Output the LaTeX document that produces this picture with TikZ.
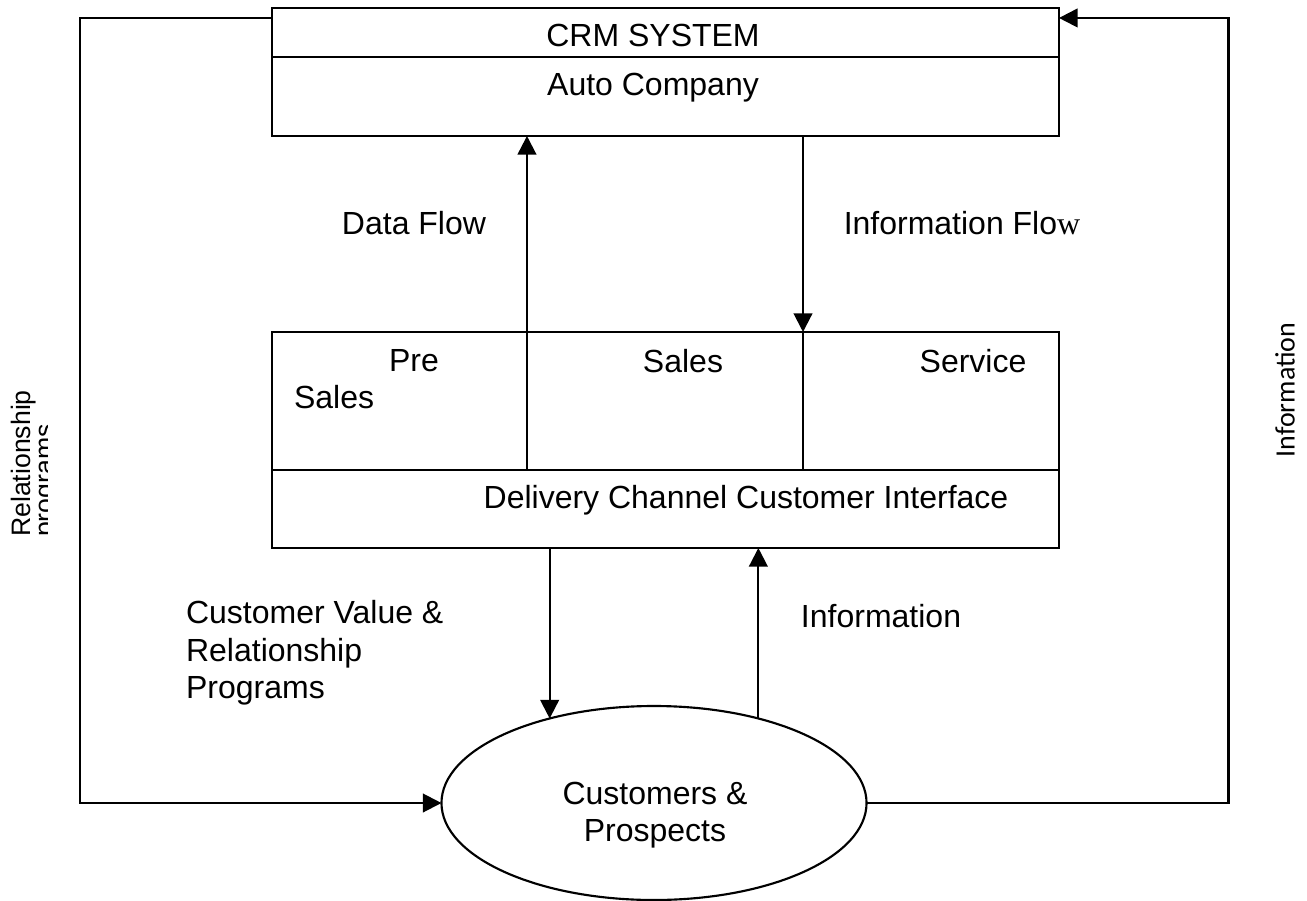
\documentclass[tikz,border=0pt]{standalone}
\usepackage{fontspec}
\setmainfont{Liberation Sans}
\newfontfamily\calfont{Carlito}
\newfontfamily\serfont{Liberation Serif}
\usetikzlibrary{arrows.meta,shapes.geometric}

\begin{document}
\begin{tikzpicture}[x=0.375pt,y=-0.375pt,
  every node/.style={font=\fontsize{12}{14}\selectfont},
  box/.style={draw,line width=1pt,inner sep=0pt,outer sep=0pt,minimum width=295.1pt},
  cell/.style={draw,line width=0.9pt,inner sep=0pt,outer sep=0pt,minimum height=51.75pt},
  lbl/.style={inner sep=0pt,align=left},
  >={Triangle[length=7pt,width=7pt]}, line width=0.8pt ]
  \useasboundingbox (0,0) rectangle (1307,901);

  \node[box,minimum height=18.4pt] (crm) at (665.5,32.5) {};
  \node[box,minimum height=29.6pt] (auto) at (665.5,96.5) {};
  \node[lbl] (crmtxt) at (653,35) {CRM SYSTEM};
  \node[lbl] (autotxt) at (653,88) {Auto Company};

  \node[cell,minimum width=95.6pt] (pre) at (399.5,401) {};
  \node[cell,minimum width=103.5pt] (sales) at (665,401) {};
  \node[cell,minimum width=96pt] (serv) at (931,401) {};
  \node[box,minimum height=29.25pt] (dlv) at (665.5,509) {};
  \node[lbl,anchor=west] (pretxt) at (293,379) {\hspace*{35.6pt}Pre\\Sales};
  \node[lbl] (saletxt) at (683,361) {Sales};
  \node[lbl] (servtxt) at (973,361) {Service};
  \node[lbl] (dlvtxt) at (746,500) {Delivery Channel Customer Interface};

  \node[lbl] (dflow) at (414,223) {Data Flow};
  \node[lbl] (iflow) at (962,223) {Information Flo{\serfont w}};
  \node[lbl,anchor=west] (cvrp) at (185,653) {Customer Value \&\\Relationship\\Programs};
  \node[lbl] (info) at (881,616) {Information};

  \node[draw,ellipse,inner sep=0pt,outer sep=0pt,minimum width=159.4pt,
    minimum height=72.75pt] (cust) at (654,803) {};
  \node[lbl,align=center] (custtxt) at (655,815) {Customers \&\\Prospects};

  % side captions
  \begin{scope}
    \clip (0,0) rectangle (47,901);
    \node[lbl,rotate=90,anchor=north west,font=\fontsize{10}{8.6}\selectfont]
      (relprog) at (10,538) {Relationship\\programs};
  \end{scope}
  \node[rotate=90,inner sep=0pt,font=\calfont\fontsize{10.5}{12}\selectfont]
    (sideinfo) at (1285,390) {Information};

  \draw[->] (pre.north east) -- (pre.north east |- auto.south);
  \draw[->] (sales.north east |- auto.south) -- (sales.north east);
  \draw[->] (dlv.south -| cust.141) -- (cust.141);
  \draw[->] (cust.39) -- (cust.39 |- dlv.south);
  \draw[->] ([yshift=-3.75pt]crm.north west) -- ++(-192,0) |- (cust.west);
  \draw[->] (cust.east) -- ++(362,0) |- ([yshift=-3.75pt]crm.north east);
\end{tikzpicture}
\end{document}
